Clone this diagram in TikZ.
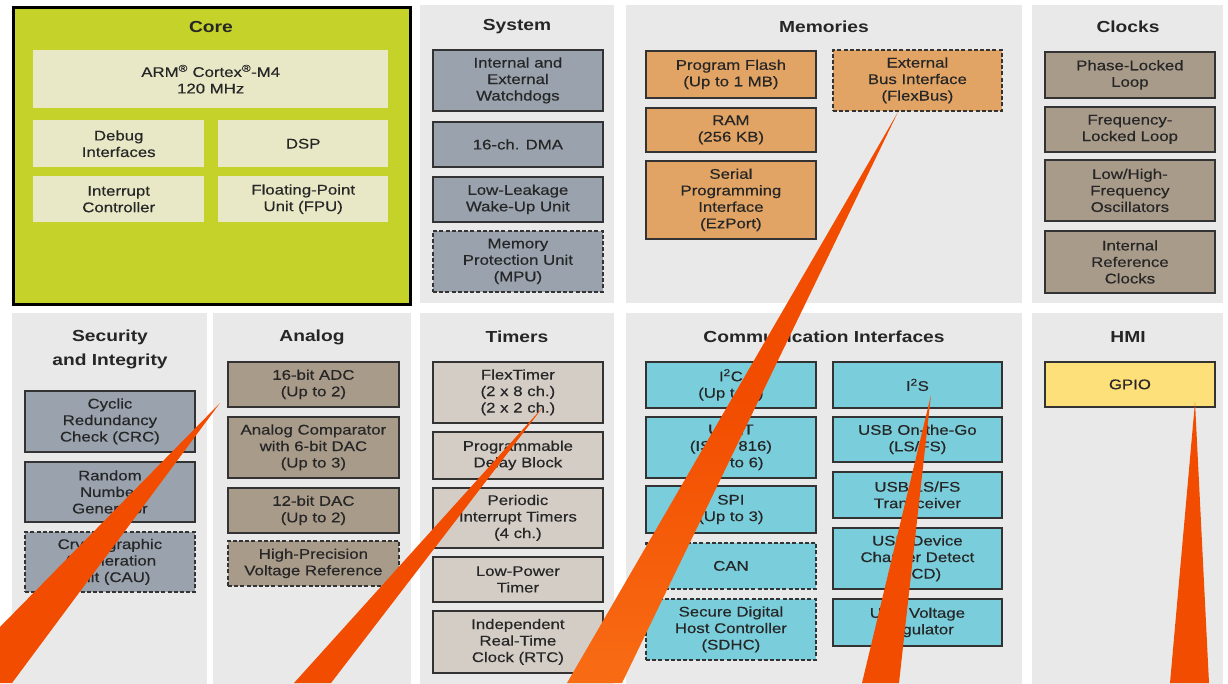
\documentclass[tikz,border=0pt]{standalone}
\usepackage{fontspec}
\setmainfont{Liberation Sans}[FakeStretch=1.2]
\newfontfamily\blkface{Liberation Sans}[FakeStretch=1.2, FakeBold=0.4]

% palette
\definecolor{panelgray}{HTML}{E9E9E9}
\definecolor{corefill}{HTML}{C5D22A}
\definecolor{coresub}{HTML}{E8E8C6}
\definecolor{sysblue}{HTML}{99A2AD}
\definecolor{memorange}{HTML}{E2A464}
\definecolor{taupe}{HTML}{A89B8A}
\definecolor{timerlight}{HTML}{D4CDC6}
\definecolor{commcyan}{HTML}{7ACEDC}
\definecolor{gpioyellow}{HTML}{FDE07A}
\definecolor{wedgeorange}{HTML}{F24C00}
\definecolor{wedgelight}{HTML}{F86C14}
\definecolor{edge}{HTML}{333333}
\definecolor{ink}{HTML}{262626}

\newcommand\blkfont{\blkface\fontsize{14}{16.5}\selectfont}
\newcommand\ttlfont{\fontsize{16}{24}\selectfont\bfseries}

\tikzset{
  panel/.style={fill=panelgray, draw=none, anchor=north west, inner sep=0pt, minimum height=298pt},
  lowpanel/.style={panel, minimum height=372pt},
  ptitle/.style={font=\ttlfont, text=ink, align=center, inner sep=0pt},
  blk/.style={draw=edge, line width=1.8pt, anchor=north west, align=center,
              inner sep=0pt, font=\blkfont, text=ink, minimum width=170pt},
  dblk/.style={blk, dash pattern=on 4pt off 2.2pt},
  subblk/.style={fill=coresub, anchor=north west, align=center, inner sep=0pt,
                 font=\blkfont, text=ink},
  wedge/.style={fill=wedgeorange, draw=none},
}

\begin{document}
\begin{tikzpicture}[x=1pt,y=-1pt]
\useasboundingbox (0,0) rectangle (1228,683);
\clip (0,0) rectangle (1228,683);
\fill[white] (0,0) rectangle (1228,683);

% ---------- top row ----------
% Core
\node[panel, fill=corefill, draw=black, line width=2.6pt, minimum width=397pt, minimum height=297pt] (pcore) at (12,6) {};
\node[ptitle] (tcore) at (211,27) {Core};
\node[subblk, minimum width=355pt, minimum height=58pt] (arm) at (33,50) {ARM\textsuperscript{®} Cortex\textsuperscript{®}-M4\\120 MHz};
\node[subblk, minimum width=171pt, minimum height=47pt] (dbg) at (33,120) {Debug\\Interfaces};
\node[subblk, minimum width=170pt, minimum height=47pt] (dsp) at (218,120) {DSP};
\node[subblk, minimum width=171pt, minimum height=46pt] (nvic) at (33,176) {Interrupt\\Controller};
\node[subblk, minimum width=170pt, minimum height=46pt] (fpu) at (218,176) {Floating-Point\\Unit (FPU)};

% System
\node[panel, minimum width=194pt] (psys) at (420,5) {};
\node[ptitle] (tsys) at (517,27) {System};
\node[blk, fill=sysblue, minimum height=61pt] (wdog) at (432,49) {Internal and\\External\\Watchdogs};
\node[blk, fill=sysblue, minimum height=45pt] (dma) at (432,121) {16-ch. DMA};
\node[blk, fill=sysblue, minimum height=45pt] (llwu) at (432,176) {Low-Leakage\\Wake-Up Unit};
\node[dblk, fill=sysblue, minimum height=61pt] (mpu) at (432,230) {Memory\\Protection Unit\\(MPU)};

% Memories
\node[panel, minimum width=396pt] (pmem) at (626,5) {};
\node[ptitle] (tmem) at (824,27) {Memories};
\node[blk, fill=memorange, minimum height=47pt] (flash) at (645,50) {Program Flash\\(Up to 1 MB)};
\node[blk, fill=memorange, minimum height=44pt] (ram) at (645,107) {RAM\\(256 KB)};
\node[blk, fill=memorange, minimum height=78pt] (ezp) at (645,160) {Serial\\Programming\\Interface\\(EzPort)};
\node[dblk, fill=memorange, minimum width=169pt, minimum height=61pt] (fbus) at (832,49) {External\\Bus Interface\\(FlexBus)};

% Clocks
\node[panel, minimum width=191pt] (pclk) at (1032,5) {};
\node[ptitle] (tclk) at (1128,27) {Clocks};
\node[blk, fill=taupe, minimum height=46pt] (pll) at (1044,51) {Phase-Locked\\Loop};
\node[blk, fill=taupe, minimum height=45pt] (fll) at (1044,106) {Frequency-\\Locked Loop};
\node[blk, fill=taupe, minimum height=61pt] (osc) at (1044,159) {Low/High-\\Frequency\\Oscillators};
\node[blk, fill=taupe, minimum height=62pt] (irc) at (1044,230) {Internal\\Reference\\Clocks};

% ---------- bottom row ----------
% Security and Integrity
\node[lowpanel, minimum width=195pt] (psec) at (12,313) {};
\node[ptitle] (tsec) at (110,349) {Security\\and Integrity};
\node[blk, fill=sysblue, minimum height=61pt] (crc) at (24,390) {Cyclic\\Redundancy\\Check (CRC)};
\node[blk, fill=sysblue, minimum height=60pt] (rng) at (24,461) {Random\\Number\\Generator};
\node[dblk, fill=sysblue, minimum height=60pt] (cau) at (24,531) {Cryptographic\\Acceleration\\Unit (CAU)};

% Analog
\node[lowpanel, minimum width=198pt] (pana) at (213,313) {};
\node[ptitle] (tana) at (312,337) {Analog};
\node[blk, fill=taupe, minimum width=171pt, minimum height=45pt] (adc) at (227,361) {16-bit ADC\\(Up to 2)};
\node[blk, fill=taupe, minimum width=171pt, minimum height=61pt] (cmp) at (227,416) {Analog Comparator\\with 6-bit DAC\\(Up to 3)};
\node[blk, fill=taupe, minimum width=171pt, minimum height=45pt] (dac) at (227,487) {12-bit DAC\\(Up to 2)};
\node[dblk, fill=taupe, minimum width=171pt, minimum height=45pt] (vref) at (227,540) {High-Precision\\Voltage Reference};

% Timers
\node[lowpanel, minimum width=194pt] (ptmr) at (420,313) {};
\node[ptitle] (ttmr) at (517,337) {Timers};
\node[blk, fill=timerlight, minimum height=61pt] (ftm) at (432,361) {FlexTimer\\(2 x 8 ch.)\\(2 x 2 ch.)};
\node[blk, fill=timerlight, minimum height=47pt] (pdb) at (432,431) {Programmable\\Delay Block};
\node[blk, fill=timerlight, minimum height=60pt] (pit) at (432,487) {Periodic\\Interrupt Timers\\(4 ch.)};
\node[blk, fill=timerlight, minimum height=45pt] (lpt) at (432,556) {Low-Power\\Timer};
\node[blk, fill=timerlight, minimum height=62pt] (rtc) at (432,610) {Independent\\Real-Time\\Clock (RTC)};

% Communication Interfaces
\node[lowpanel, minimum width=396pt] (pcom) at (626,313) {};
\node[ptitle] (tcom) at (824,337) {Communication Interfaces};
\node[blk, fill=commcyan, minimum height=46pt] (iic) at (645,361) {I\textsuperscript{2}C\\(Up to 4)};
\node[blk, fill=commcyan, minimum height=61pt] (uart) at (645,416) {UART\\(ISO 7816)\\(Up to 6)};
\node[blk, fill=commcyan, minimum height=47pt] (spi) at (645,485) {SPI\\(Up to 3)};
\node[dblk, fill=commcyan, minimum height=46pt] (can) at (645,542) {CAN};
\node[dblk, fill=commcyan, minimum height=61pt] (sdhc) at (645,598) {Secure Digital\\Host Controller\\(SDHC)};
\node[blk, fill=commcyan, minimum width=169pt, minimum height=46pt] (iis) at (832,361) {I\textsuperscript{2}S};
\node[blk, fill=commcyan, minimum width=169pt, minimum height=45pt] (otg) at (832,416) {USB On-the-Go\\(LS/FS)};
\node[blk, fill=commcyan, minimum width=169pt, minimum height=46pt] (xcvr) at (832,471) {USB LS/FS\\Transceiver};
\node[blk, fill=commcyan, minimum width=169pt, minimum height=61pt] (dcd) at (832,527) {USB Device\\Charger Detect\\(DCD)};
\node[blk, fill=commcyan, minimum width=169pt, minimum height=47pt] (vreg) at (832,598) {USB Voltage\\Regulator};

% HMI
\node[lowpanel, minimum width=191pt] (phmi) at (1032,313) {};
\node[ptitle] (thmi) at (1128,337) {HMI};
\node[blk, fill=gpioyellow, minimum height=45pt] (gpio) at (1044,361) {GPIO};

% ---------- pointer wedges ----------
\coordinate (w1tip) at (220,403);  \coordinate (w1a) at (-55,683);  \coordinate (w1b) at (12,683);
\coordinate (w2tip) at (543,407);  \coordinate (w2a) at (294,683);  \coordinate (w2b) at (331,683);
\coordinate (w3tip) at (898,112);  \coordinate (w3a) at (567,683);  \coordinate (w3b) at (622,683);
\coordinate (w4tip) at (931,395);  \coordinate (w4a) at (862,683);  \coordinate (w4b) at (899,683);
\coordinate (w5tip) at (1195,402); \coordinate (w5a) at (1170,683); \coordinate (w5b) at (1209,683);
\fill[wedge] (w1tip) -- (w1a) -- (w1b) -- cycle;
\fill[wedge] (w2tip) -- (w2a) -- (w2b) -- cycle;
\shade[top color=wedgeorange, bottom color=wedgelight, middle color=wedgeorange]
  (w3tip) -- (w3a) -- (w3b) -- cycle;
\fill[wedge] (w4tip) -- (w4a) -- (w4b) -- cycle;
\fill[wedge] (w5tip) -- (w5a) -- (w5b) -- cycle;
\end{tikzpicture}
\end{document}
